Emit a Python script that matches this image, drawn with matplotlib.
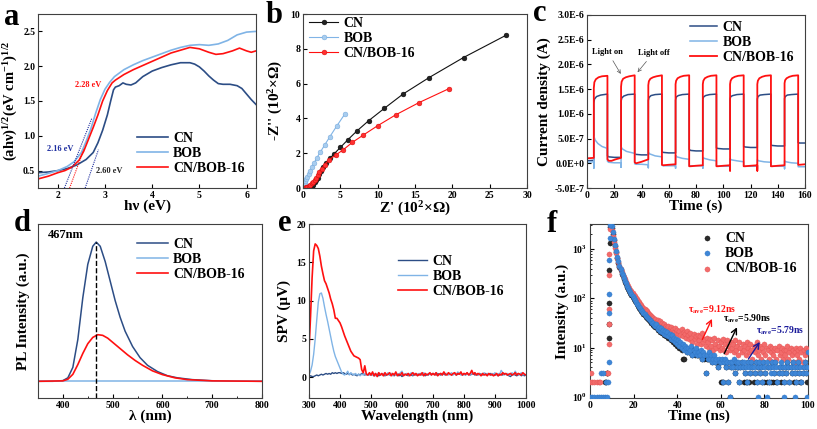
import numpy as np
import matplotlib
matplotlib.use("Agg")
import matplotlib.pyplot as plt
from matplotlib.ticker import FuncFormatter, MultipleLocator

plt.rcParams['font.family'] = ['Liberation Serif', 'DejaVu Serif']
plt.rcParams['font.weight'] = 'bold'
plt.rcParams['axes.labelweight'] = 'bold'
plt.rcParams['mathtext.default'] = 'regular'
plt.rcParams['axes.linewidth'] = 0.8
plt.rcParams['axes.edgecolor'] = '#404040'
plt.rcParams['xtick.direction'] = 'in'
plt.rcParams['ytick.direction'] = 'in'
plt.rcParams['xtick.major.size'] = 3
plt.rcParams['ytick.major.size'] = 3
plt.rcParams['xtick.minor.size'] = 1.5
plt.rcParams['ytick.minor.size'] = 1.5
plt.rcParams['xtick.major.pad'] = 2
plt.rcParams['ytick.major.pad'] = 2

NAVY = '#2c4d85'
LIGHT = '#80b4e6'
RED = '#ff1010'

# ---------- (a) Tauc plot ----------
a_cn_x = [1.58, 1.8, 2.0, 2.2, 2.4, 2.6, 2.75, 2.85, 2.95, 3.05, 3.12, 3.18, 3.22, 3.3, 3.38, 3.45,
          3.55, 3.65, 3.8, 4.0, 4.2, 4.4, 4.6, 4.8, 4.9, 5.0, 5.1, 5.2, 5.3, 5.4, 5.5, 5.65, 5.8,
          5.9, 6.0, 6.1, 6.2]
a_cn_y = [0.47, 0.48, 0.5, 0.53, 0.58, 0.66, 0.76, 0.9, 1.08, 1.3, 1.5, 1.66, 1.70, 1.72, 1.76, 1.74,
          1.73, 1.76, 1.85, 1.93, 1.98, 2.02, 2.05, 2.05, 2.03, 1.99, 1.93, 1.86, 1.80, 1.75, 1.74,
          1.74, 1.72, 1.68, 1.60, 1.52, 1.45]
a_bob_x = [1.58, 1.8, 2.0, 2.2, 2.35, 2.5, 2.6, 2.7, 2.8, 2.9, 3.0, 3.1, 3.2, 3.4, 3.6, 3.8, 4.0,
           4.2, 4.4, 4.6, 4.8, 5.0, 5.2, 5.4, 5.6, 5.8, 6.0, 6.2]
a_bob_y = [0.42, 0.46, 0.5, 0.56, 0.63, 0.76, 0.92, 1.1, 1.32, 1.52, 1.67, 1.77, 1.85, 1.95, 2.02,
           2.08, 2.13, 2.18, 2.23, 2.27, 2.30, 2.31, 2.30, 2.32, 2.37, 2.45, 2.49, 2.50]
a_mix_x = [1.58, 1.8, 2.0, 2.15, 2.3, 2.45, 2.55, 2.65, 2.75, 2.85, 2.95, 3.05, 3.15, 3.22, 3.4,
           3.6, 3.8, 4.0, 4.2, 4.4, 4.6, 4.8, 5.0, 5.2, 5.35, 5.5, 5.7, 5.85, 6.0, 6.1, 6.2]
a_mix_y = [0.38, 0.42, 0.47, 0.5, 0.55, 0.65, 0.78, 0.95, 1.12, 1.3, 1.5, 1.65, 1.76, 1.80, 1.88,
           1.95, 2.01, 2.07, 2.13, 2.19, 2.23, 2.27, 2.25, 2.20, 2.17, 2.18, 2.22, 2.26, 2.22,
           2.20, 2.22]
a_gap_labels = ['2.16 eV', '2.28 eV', '2.60 eV']
a_tangent_x = [[2.14, 2.72], [2.25, 2.56], [2.58, 2.86]]
a_tangent_y = [[0.25, 1.25], [0.25, 0.82], [0.25, 0.80]]

# ---------- (b) Nyquist plot ----------
b_cn_x = [0.5, 0.6, 0.8, 1.0, 1.2, 1.4, 1.6, 1.8, 2.0, 2.2, 2.4, 2.7, 3.1, 3.6, 4.2, 5.0, 6.0, 7.2,
          8.8, 10.9, 13.4, 16.9, 21.5, 27.2]
b_cn_y = [0.01, 0.02, 0.04, 0.07, 0.12, 0.2, 0.32, 0.45, 0.6, 0.8, 1.0, 1.22, 1.45, 1.70, 1.98,
          2.33, 2.77, 3.27, 3.87, 4.58, 5.4, 6.35, 7.5, 8.78]
b_bob_x = [0.05, 0.13, 0.22, 0.33, 0.45, 0.58, 0.75, 0.95, 1.2, 1.5, 1.85, 2.3, 2.9, 3.6, 4.5, 5.6]
b_bob_y = [0.05, 0.15, 0.26, 0.38, 0.52, 0.66, 0.82, 1.0, 1.2, 1.45, 1.73, 2.05, 2.47, 2.95, 3.55,
           4.25]
b_mix_x = [0.3, 0.45, 0.6, 0.8, 1.0, 1.2, 1.4, 1.6, 1.8, 2.0, 2.2, 2.5, 2.9, 3.5, 4.4, 5.4, 6.6,
           8.1, 10.0, 12.4, 15.5, 19.5]
b_mix_y = [0.02, 0.04, 0.07, 0.12, 0.19, 0.27, 0.37, 0.48, 0.6, 0.75, 0.9, 1.1, 1.35, 1.62, 1.9,
           2.2, 2.62, 3.05, 3.58, 4.2, 4.9, 5.7]

# ---------- (c) transient photocurrent (units of 1E-6 A) ----------
c_cn_t = [0, 5, 5, 5.5, 7, 10, 15, 15, 16, 20, 25,
          25, 25.5, 27, 30, 35, 35, 36, 40, 45,
          45, 45.5, 47, 50, 55, 55, 56, 60, 65,
          65, 65.5, 67, 70, 75, 75, 76, 80, 85,
          85, 85.5, 87, 90, 95, 95, 96, 100, 105,
          105, 105.5, 107, 110, 115, 115, 116, 120, 125,
          125, 125.5, 127, 130, 135, 135, 136, 140, 145,
          145, 145.5, 147, 150, 155, 155, 156, 160]
c_cn_y = [0.05, 0.06, 1.22, 1.30, 1.35, 1.38, 1.40, 0.15, 0.13, 0.12, 0.12,
          1.25, 1.32, 1.36, 1.39, 1.40, 0.19, 0.18, 0.17, 0.17,
          1.27, 1.33, 1.37, 1.39, 1.40, 0.23, 0.22, 0.21, 0.21,
          1.28, 1.34, 1.37, 1.39, 1.40, 0.28, 0.26, 0.25, 0.25,
          1.29, 1.34, 1.37, 1.39, 1.40, 0.31, 0.30, 0.29, 0.29,
          1.30, 1.35, 1.37, 1.39, 1.40, 0.34, 0.33, 0.32, 0.32,
          1.30, 1.35, 1.38, 1.39, 1.40, 0.37, 0.36, 0.35, 0.35,
          1.31, 1.35, 1.38, 1.39, 1.40, 0.42, 0.41, 0.41]
c_bob_t = [0, 5, 5, 5, 6, 8, 11, 15, 15, 16, 20, 25, 25,
           25, 26, 29, 35, 35, 36, 40, 45, 45,
           45, 46, 50, 55, 55, 56, 60, 65, 65,
           65, 66, 70, 75, 75, 76, 80, 85, 85,
           85, 86, 90, 95, 95, 96, 100, 105, 105,
           105, 106, 110, 115, 115, 116, 120, 125, 125,
           125, 126, 130, 135, 135, 136, 140, 145, 145,
           145, 146, 150, 155, 155, 156, 160]
c_bob_y = [0.02, 0.03, -0.10, 0.55, 0.47, 0.40, 0.34, 0.30, 0.04, 0.02, 0.01, 0.01, -0.08,
           0.33, 0.29, 0.24, 0.20, -0.01, -0.02, -0.02, -0.03, -0.09,
           0.22, 0.19, 0.15, 0.13, -0.04, -0.05, -0.05, -0.05, -0.10,
           0.16, 0.13, 0.10, 0.08, -0.05, -0.05, -0.05, -0.05, -0.10,
           0.12, 0.10, 0.07, 0.05, -0.05, -0.06, -0.06, -0.06, -0.11,
           0.09, 0.07, 0.05, 0.03, -0.06, -0.06, -0.06, -0.06, -0.11,
           0.07, 0.05, 0.03, 0.02, -0.06, -0.06, -0.06, -0.06, -0.11,
           0.05, 0.03, 0.01, 0.00, -0.07, -0.07, -0.07]
c_mix_t = [0, 5, 5, 5.4, 6.5, 8.5, 11, 15, 15, 16, 18, 21, 25,
           25, 25.4, 26.5, 28.5, 31, 35, 35, 36, 40, 45,
           45, 45.4, 46.5, 48.5, 51, 55, 55, 56, 60, 65,
           65, 65.4, 66.5, 68.5, 71, 75, 75, 76, 80, 85,
           85, 85.4, 86.5, 88.5, 91, 95, 95, 96, 100, 105, 105,
           105, 105.4, 106.5, 108.5, 111, 115, 115, 116, 120, 125, 125,
           125, 125.4, 126.5, 128.5, 131, 135, 135, 136, 140, 145,
           145, 145.4, 146.5, 148.5, 151, 155, 155, 156, 160]
c_mix_y = [0.10, 0.11, 1.52, 1.64, 1.70, 1.74, 1.76, 1.77, 0.08, 0.05, 0.05, 0.08, 0.11,
           1.55, 1.65, 1.71, 1.74, 1.76, 1.78, 0.02, 0.00, 0.03, 0.08,
           1.58, 1.66, 1.71, 1.74, 1.76, 1.78, -0.03, -0.04, -0.03, -0.02,
           1.60, 1.67, 1.72, 1.75, 1.77, 1.78, -0.06, -0.06, -0.05, -0.04,
           1.60, 1.67, 1.72, 1.75, 1.77, 1.78, -0.06, -0.06, -0.05, -0.04, -0.15,
           1.60, 1.67, 1.72, 1.75, 1.77, 1.78, -0.06, -0.06, -0.05, -0.04, -0.15,
           1.60, 1.67, 1.72, 1.75, 1.77, 1.78, -0.06, -0.06, -0.05, -0.04,
           1.62, 1.68, 1.72, 1.75, 1.77, 1.78, -0.03, -0.03, -0.02]

# ---------- (d) PL spectra ----------
d_cn_x = [350, 380, 400, 410, 420, 430, 440, 450, 460, 467, 475, 485, 495, 505, 515, 525, 540, 555,
          570, 590, 610, 630, 660, 700, 750, 800]
d_cn_y = [0, 0, 0.005, 0.025, 0.1, 0.3, 0.6, 0.84, 0.97, 1.0, 0.97, 0.86, 0.72, 0.58, 0.46, 0.36,
          0.25, 0.17, 0.115, 0.07, 0.04, 0.025, 0.012, 0.004, 0.001, 0]
d_bob_x = [350, 800]
d_bob_y = [0.005, 0.005]
d_mix_x = [350, 400, 410, 420, 430, 440, 450, 460, 470, 480, 490, 500, 515, 530, 545, 560, 580, 600,
           625, 650, 700, 800]
d_mix_y = [0, 0.003, 0.015, 0.05, 0.12, 0.2, 0.27, 0.315, 0.335, 0.33, 0.31, 0.28, 0.235, 0.19,
           0.15, 0.115, 0.075, 0.048, 0.025, 0.012, 0.003, 0]
d_peak_nm = 467

# ---------- (e) SPV spectra, 300-1000 nm every 5 nm ----------
e_wl = np.arange(300, 1001, 5)
e_mix = [3.5, 8, 13, 16.5, 17.4, 17.2, 16.8, 15.8, 14.5, 13.5,
         12.6, 12.2, 11.6, 11.0, 10.2, 9.6, 8.8, 7.7, 7.7, 7.4,
         7.1, 6.6, 6.0, 5.4, 4.9, 4.4, 3.9, 3.4, 3.1, 2.8,
         2.7, 2.6, 2.5, 2.3, 1.0, 0.6, 1.5, 0.4, 0.3, 0.6,
         0.3, 0.7, 0.2, 0.5, 0.1, 0.6, 0.3, 0.5, 0.2, 0.6,
         0.3, 0.4, 0.6, 0.2, 0.5, 0.3, 0.7, 0.2, 0.4, 0.3,
         0.6, 0.2, 0.4, 0.3, 0.5, 0.2, 0.4, 0.6, 0.3, 0.5,
         0.2, 0.4, 0.3, 0.6, 0.2, 0.5, 0.3, 0.4, 0.6, 0.3,
         0.5, 0.3, 0.6, 0.2, 0.4, 0.5, 0.3, 0.7, 0.4, 0.3,
         0.6, 0.4, 0.3, 0.5, 0.6, 0.3, 0.5, 0.4, 0.7, 0.3,
         0.5, 0.4, 0.6, 0.3, 0.5, 0.9, 0.4, 0.6, 0.3, 0.5,
         0.4, 0.2, 0.5, 0.3, 0.4, 0.2, 0.5, 0.3, 0.4, 0.2,
         0.3, 0.5, 0.2, 0.4, 0.3, 0.6, 0.4, 0.5, 0.3, 0.4,
         0.5, 0.3, 0.4, 0.6, 0.3, 0.5, 0.4, 0.3, 0.6, 0.4,
         0.3]
e_bob = [0.3, 0.8, 1.6, 3.0, 5.0, 7.5, 9.8, 10.9, 11.0, 10.3,
         9.2, 8.2, 7.3, 6.3, 5.3, 4.3, 3.4, 2.7, 2.2, 1.7,
         1.2, 0.7, 0.4, 0.3, 0.5, 0.8, 0.3, 0.6, 0.4, 0.3,
         0.5, 0.3, 0.4, 0.2, 0.4, 0.3, 0.5, 0.3, 0.4, 0.3,
         0.4, 0.3, 0.5, 0.2, 0.4, 0.6, 0.3, 0.4, 0.5, 0.3,
         0.4, 0.6, 0.3, 0.5, 0.2, 0.4, 0.3, 0.5, 0.4, 0.6,
         0.8, 0.3, 0.4, 0.5, 0.3, 0.4, 0.6, 0.3, 0.5, 0.4,
         0.3, 0.5, 0.4, 0.3, 0.6, 0.4, 0.3, 0.5, 0.4, 0.3,
         0.5, 0.4, 0.6, 0.3, 0.4, 0.5, 0.3, 0.6, 0.4, 0.5,
         0.3, 0.4, 0.6, 0.3, 0.5, 0.4, 0.7, 0.5, 0.3, 0.4,
         0.5, 0.3, 0.6, 0.4, 0.3, 0.5, 0.4, 0.6, 0.3, 0.4,
         0.5, 0.3, 0.4, 0.6, 0.3, 0.5, 0.4, 0.3, 0.5, 0.4,
         0.6, 0.3, 0.5, 0.4, 0.9, 0.6, 0.3, 0.4, 0.5, 0.3,
         0.4, 0.6, 0.3, 0.8, 0.5, 0.3, 0.4, 0.6, 0.3, 0.4,
         0.3]
e_cn = [0.1, 0.2, 0.1, 0.1, 0.2, 0.3, 0.2, 0.3, 0.4, 0.3,
        0.4, 0.5, 0.4, 0.5, 0.4, 0.6, 0.5, 0.6, 0.5, 0.6,
        0.6, 0.5, 0.6, 0.5, 0.4, 0.5, 0.4, 0.5, 0.3, 0.4,
        0.3, 0.2, 0.4, 0.3, 0.5, 0.4, 0.3, 0.4, 0.3, 0.4,
        0.3, 0.4, 0.2, 0.3, 0.4, 0.2, 0.3, 0.4, 0.3, 0.2,
        0.3, 0.4, 0.3, 0.5, 0.3, 0.2, 0.4, 0.3, 0.2, 0.3,
        0.1, 0.3, 0.4, 0.3, 0.2, 0.4, 0.3, 0.2, 0.4, 0.3,
        0.4, 0.3, 0.5, 0.3, 0.4, 0.2, 0.4, 0.3, 0.5, 0.4,
        0.5, 0.4, 0.3, 0.5, 0.4, 0.3, 0.5, 0.4, 0.3, 0.5,
        0.4, 0.5, 0.3, 0.4, 0.5, 0.3, 0.4, 0.5, 0.4, 0.3,
        0.4, 0.3, 0.5, 0.4, 0.3, 0.4, 0.5, 0.3, 0.4, 0.3,
        0.5, 0.4, 0.3, 0.4, 0.5, 0.3, 0.4, 0.5, 0.3, 0.4,
        0.3, 0.4, 0.2, 0.3, 0.4, 0.3, 0.5, 0.4, 0.3, 0.2,
        0.1, 0.3, 0.4, 0.3, 0.2, 0.3, 0.4, 0.2, 0.3, 0.2,
        0.3]

# ---------- (f) TRPL decay, counts every 0.5 ns from 10 to 100 ns ----------
f_t = np.arange(10, 100.01, 0.5)
f_cn = [2700, 2050, 1500, 1120, 850, 660, 530, 440, 370, 315,
        278, 245, 218, 193, 172, 155, 140, 127, 116, 106,
        97, 89, 82, 75, 69, 64, 60, 56, 52, 48,
        45, 42, 40, 38, 36, 34, 32, 31, 29, 28,
        26, 28, 23, 25, 21, 24, 20, 22, 18, 21,
        17, 20, 16, 18, 14, 17, 13, 15, 12, 14,
        11, 13, 10, 12, 9, 6, 6, 10, 9, 8,
        9, 8, 8, 10, 7, 8, 7, 9, 7, 7,
        7, 7, 8, 6, 7, 6, 3, 6, 6, 7,
        6, 6, 5, 6, 6, 5, 5, 4, 5, 5,
        2, 2, 2, 5, 5, 4, 5, 2, 1, 4,
        5, 4, 5, 3, 5, 4, 4, 2, 4, 5,
        4, 2, 3, 2, 2, 5, 2, 3, 5, 4,
        2, 3, 5, 2, 4, 4, 3, 4, 2, 5,
        2, 3, 2, 4, 2, 4, 2, 5, 2, 3,
        5, 2, 2, 3, 4, 2, 3, 4, 2, 4,
        3, 5, 4, 2, 4, 3, 5, 2, 3, 2,
        4, 5, 3, 2, 2, 3, 4, 5, 3, 2,
        3]
f_bob = [2900, 2200, 1600, 1200, 900, 700, 560, 460, 390, 330,
         290, 255, 225, 200, 180, 160, 145, 132, 120, 110,
         100, 92, 85, 78, 72, 67, 62, 58, 54, 50,
         47, 44, 42, 40, 38, 36, 34, 32, 31, 29,
         27, 30, 24, 26, 22, 25, 21, 23, 19, 22,
         18, 21, 17, 19, 15, 18, 14, 16, 13, 15,
         12, 14, 11, 13, 10, 12, 9, 11, 10, 8,
         10, 8, 9, 11, 7, 9, 8, 10, 7, 8,
         8, 7, 9, 6, 8, 7, 3, 7, 6, 8,
         6, 7, 5, 6, 7, 5, 6, 4, 6, 5,
         5, 6, 2, 5, 6, 4, 5, 2, 5, 4,
         5, 4, 6, 3, 5, 4, 5, 2, 4, 5,
         4, 5, 3, 4, 2, 5, 4, 3, 5, 4,
         4, 3, 5, 2, 4, 5, 3, 4, 2, 5,
         4, 3, 5, 4, 2, 4, 3, 5, 4, 3,
         5, 4, 2, 3, 4, 5, 3, 4, 2, 4,
         3, 5, 4, 2, 4, 3, 5, 4, 3, 2,
         4, 5, 3, 4, 2, 3, 4, 5, 3, 4,
         8]
f_mix = [2400, 1800, 1350, 1050, 820, 660, 540, 450, 390, 340,
         300, 268, 240, 215, 195, 178, 162, 150, 138, 128,
         118, 110, 102, 95, 88, 82, 77, 72, 68, 64,
         60, 57, 54, 50, 48, 46, 43, 41, 39, 37,
         38, 33, 36, 31, 34, 29, 32, 28, 30, 26,
         28, 25, 27, 23, 26, 22, 24, 21, 25, 20,
         23, 19, 22, 18, 24, 17, 21, 19, 16, 22,
         18, 15, 20, 16, 13, 19, 15, 17, 12, 18,
         14, 17, 12, 20, 13, 15, 11, 16, 13, 10,
         15, 11, 14, 9, 16, 12, 10, 14, 11, 9,
         13, 10, 15, 9, 12, 8, 14, 11, 9, 13,
         10, 12, 8, 14, 9, 11, 7, 13, 10, 8,
         12, 9, 11, 7, 13, 10, 8, 12, 9, 6,
         11, 8, 10, 13, 7, 9, 11, 6, 10, 8,
         12, 7, 10, 9, 6, 11, 8, 10, 7, 9,
         10, 6, 9, 11, 7, 8, 10, 6, 9, 7,
         9, 11, 6, 8, 10, 7, 9, 5, 8, 10,
         7, 9, 6, 10, 8, 5, 9, 7, 10, 8,
         9]
# points before / on the rising edge of the pulse
f_cn_pre_t = [6.8, 7.3, 7.8, 8.0, 8.5, 8.6, 8.7, 8.8, 9.0, 9.3]
f_cn_pre_y = [2, 2, 3, 3, 16, 30, 80, 380, 1300, 2800]
f_bob_pre_t = [0, 1, 2, 3, 4, 5, 6, 7, 7.8, 5.2, 6.0, 7.3, 8.2, 8.5, 8.7, 8.8, 8.9, 9.0, 9.3,
               64, 77, 81, 89, 94, 99.5]
f_bob_pre_y = [1, 1, 1, 1, 1, 1, 1, 1, 1, 3, 3, 2, 2, 5, 50, 120, 600, 1700, 3000,
               1, 1, 1, 1, 1, 1]
f_mix_pre_t = [0.5, 0, 1, 2, 3, 4, 4.8, 7.6, 8.3, 8.5, 8.6, 8.7, 8.8, 8.9, 9.3]
f_mix_pre_y = [3, 2, 2, 2, 2, 2, 2, 3, 3, 12, 30, 60, 300, 800, 2500]
f_tau_labels = ['9.12ns', '5.90ns', '5.79ns']

W, H = 817, 429
fig = plt.figure(figsize=(W / 100, H / 100), dpi=100)


def px_axes(left, top, right, bottom):
    return fig.add_axes([left / W, 1 - bottom / H, (right - left) / W, (bottom - top) / H])


def px_legend(ax, x, y, **kw):
    opts = dict(loc='upper left', bbox_to_anchor=(x / W, 1 - y / H), bbox_transform=fig.transFigure,
                frameon=False, borderpad=0, borderaxespad=0, fontsize=10, labelspacing=0.15,
                handlelength=2.2, handletextpad=0.4)
    opts.update(kw)
    return ax.legend(**opts)


def panel_letter(x, y, s):
    fig.text(x / W, 1 - y / H, s, fontsize=22, fontweight='bold', va='baseline', ha='left')


# === (a) ===
ax = px_axes(38, 14, 256, 188)
ax.plot(a_cn_x, a_cn_y, color=NAVY, lw=1.2, label='CN')
ax.plot(a_bob_x, a_bob_y, color=LIGHT, lw=1.2, label='BOB')
ax.plot(a_mix_x, a_mix_y, color=RED, lw=1.2, label='CN/BOB-16')
for tx, ty, c in zip(a_tangent_x, a_tangent_y, ['#1f2fa0', RED, '#1f2fa0']):
    ax.plot(tx, ty, ls=(0, (1, 1)), color=c, lw=0.8)
ax.text(2.05, 0.78, a_gap_labels[0], color='#1f2fa0', fontsize=6, ha='center')
ax.text(2.64, 1.70, a_gap_labels[1], color=RED, fontsize=6, ha='center')
ax.text(3.08, 0.46, a_gap_labels[2], color='#222222', fontsize=6, ha='center')
ax.set_xlim(1.58, 6.2)
ax.set_ylim(0.25, 2.75)
ax.set_xticks([2, 3, 4, 5, 6])
ax.set_yticks([0.5, 1.0, 1.5, 2.0, 2.5])
ax.tick_params(labelsize=7)
ax.set_xlabel('hν (eV)', fontsize=11, labelpad=0)
ax.set_ylabel('(ahν)$^{1/2}$(eV cm$^{-1}$)$^{1/2}$', fontsize=10.5, labelpad=2)
px_legend(ax, 137, 132)
panel_letter(4, 25, 'a')

# === (b) ===
ax = px_axes(303, 14, 527, 188)
ax.plot(b_cn_x, b_cn_y, color='#111111', lw=0.8, marker='o', ms=3.5, mfc='#222222', mec='#000000',
        mew=0.3, label='CN')
ax.plot(b_bob_x, b_bob_y, color=LIGHT, lw=0.8, marker='o', ms=3.5, mfc='#a8cdef', mec='#6aa2d8',
        mew=0.3, label='BOB')
ax.plot(b_mix_x, b_mix_y, color=RED, lw=0.8, marker='o', ms=3.5, mfc='#ff3030', mec='#d00000',
        mew=0.3, label='CN/BOB-16')
ax.set_xlim(0, 30)
ax.set_ylim(0, 10)
ax.set_xticks([0, 5, 10, 15, 20, 25, 30])
ax.set_yticks([0, 2, 4, 6, 8, 10])
ax.tick_params(labelsize=7)
ax.set_xlabel("Z' (10$^2$×Ω)", fontsize=11, labelpad=0)
ax.set_ylabel("-Z'' (10$^2$×Ω)", fontsize=11, labelpad=4)
px_legend(ax, 309, 17, handlelength=2.1)
panel_letter(266, 23, 'b')

# === (c) ===
ax = px_axes(587, 15, 805, 188)
ax.plot(c_cn_t, np.array(c_cn_y) * 1e-6, color=NAVY, lw=1.1, label='CN')
ax.plot(c_bob_t, np.array(c_bob_y) * 1e-6, color=LIGHT, lw=1.1, label='BOB')
ax.plot(c_mix_t, np.array(c_mix_y) * 1e-6, color=RED, lw=1.3, label='CN/BOB-16')
ax.annotate('Light on', xy=(25.8, 1.76e-6), xytext=(15, 2.22e-6), fontsize=6, ha='center',
            arrowprops=dict(arrowstyle='->', lw=0.5, color='#555555'))
ax.annotate('Light off', xy=(35.8, 1.80e-6), xytext=(49, 2.20e-6), fontsize=6, ha='center',
            arrowprops=dict(arrowstyle='->', lw=0.5, color='#555555'))
ax.set_xlim(0, 160)
ax.set_ylim(-5e-7, 3e-6)
ax.set_xticks(range(0, 161, 20))
ax.set_yticks(np.arange(-5e-7, 3.01e-6, 5e-7))


def sci_fmt(v, pos):
    if abs(v) < 1e-12:
        return '0.0E+0'
    e = int(np.floor(np.log10(abs(v))))
    return f'{v / 10 ** e:.1f}E{e}'


ax.yaxis.set_major_formatter(FuncFormatter(sci_fmt))
ax.tick_params(labelsize=7)
ax.set_xlabel('Time (s)', fontsize=11, labelpad=0)
ax.set_ylabel('Current density (A)', fontsize=11, labelpad=2)
px_legend(ax, 690, 21, handlelength=1.95)
panel_letter(533, 21, 'c')

# === (d) ===
ax = px_axes(38, 224, 262, 398)
ax.plot(d_cn_x, d_cn_y, color=NAVY, lw=1.1, label='CN')
ax.plot(d_bob_x, d_bob_y, color=LIGHT, lw=1.1, label='BOB')
ax.plot(d_mix_x, d_mix_y, color=RED, lw=1.2, label='CN/BOB-16')
d_ylim = (-0.12, 1.13)
ax.plot([d_peak_nm, d_peak_nm], [d_ylim[0], max(d_cn_y)], ls='--', color='black', lw=1.0)
ax.text(405, 1.03, f'{d_peak_nm}nm', fontsize=9, ha='center')
ax.set_xlim(350, 800)
ax.set_ylim(*d_ylim)
ax.set_xticks([400, 500, 600, 700, 800])
ax.xaxis.set_minor_locator(MultipleLocator(50))
ax.set_yticks([])
ax.tick_params(labelsize=7)
ax.set_xlabel('λ (nm)', fontsize=11, labelpad=0)
ax.set_ylabel('PL Intensity (a.u.)', fontsize=11, labelpad=6)
px_legend(ax, 137, 238)
panel_letter(14, 231, 'd')

# === (e) ===
ax = px_axes(309, 224, 526, 398)
ax.plot(e_wl, e_cn, color=NAVY, lw=1.0, label='CN')
ax.plot(e_wl, e_bob, color=LIGHT, lw=1.0, label='BOB')
ax.plot(e_wl, e_mix, color=RED, lw=1.2, label='CN/BOB-16')
ax.set_xlim(300, 1000)
ax.set_ylim(-2.7, 20)
ax.set_xticks(range(300, 1001, 100))
ax.set_yticks([0, 5, 10, 15, 20])
ax.tick_params(labelsize=7)
ax.set_xlabel('Wavelength (nm)', fontsize=11, labelpad=0)
ax.set_ylabel('SPV (μV)', fontsize=11, labelpad=4)
px_legend(ax, 398, 255, handlelength=2.1)
panel_letter(278, 231, 'e')

# === (f) ===
ax = px_axes(590, 224, 808, 398)
ax.scatter(f_t, f_cn, s=14, color='#2a2a2a', edgecolors='#000000', linewidths=0.2, label='CN', zorder=2)
ax.scatter(f_cn_pre_t, f_cn_pre_y, s=14, color='#2a2a2a', edgecolors='#000000', linewidths=0.2, zorder=2)
ax.scatter(f_t, f_mix, s=14, color='#f26b6b', edgecolors='#e04848', linewidths=0.2, zorder=3)
ax.scatter(f_mix_pre_t, f_mix_pre_y, s=14, color='#f26b6b', edgecolors='#e04848', linewidths=0.2, zorder=3)
ax.scatter(f_t, f_bob, s=14, color='#3e86d6', edgecolors='#2a6fc0', linewidths=0.2, label='BOB', zorder=4)
ax.scatter(f_bob_pre_t, f_bob_pre_y, s=14, color='#3e86d6', edgecolors='#2a6fc0', linewidths=0.2, zorder=4)
ax.scatter([], [], s=14, color='#f26b6b', edgecolors='#e04848', linewidths=0.2, label='CN/BOB-16')
ax.annotate('', xy=(56.5, 43), xytext=(51, 13),
            arrowprops=dict(arrowstyle='->', lw=1.0, color=RED), zorder=6)
ax.annotate('', xy=(68, 29), xytext=(61, 6.7),
            arrowprops=dict(arrowstyle='->', lw=1.0, color='black'), zorder=6)
ax.annotate('', xy=(78.6, 14.5), xytext=(72, 5.3),
            arrowprops=dict(arrowstyle='->', lw=1.0, color='#1a1a9a'), zorder=6)
ax.text(45, 52, 'τ$_{ave}$=' + f_tau_labels[0], color=RED, fontsize=7, zorder=7)
ax.text(61, 33, 'τ$_{ave}$=' + f_tau_labels[1], color='black', fontsize=7, zorder=7)
ax.text(76, 19, 'τ$_{ave}$=' + f_tau_labels[2], color='#1a1a9a', fontsize=7, zorder=7)
ax.set_yscale('log')
ax.set_xlim(0, 100)
ax.set_ylim(0.95, 3200)
ax.set_xticks([0, 20, 40, 60, 80, 100])
ax.tick_params(labelsize=7)
ax.set_xlabel('Time (ns)', fontsize=11, labelpad=0)
ax.set_ylabel('Intensity (a.u.)', fontsize=11, labelpad=2)
px_legend(ax, 700, 232, handlelength=1.0, handletextpad=0.8)
panel_letter(547, 232, 'f')

fig.savefig('out.png', dpi=100)
